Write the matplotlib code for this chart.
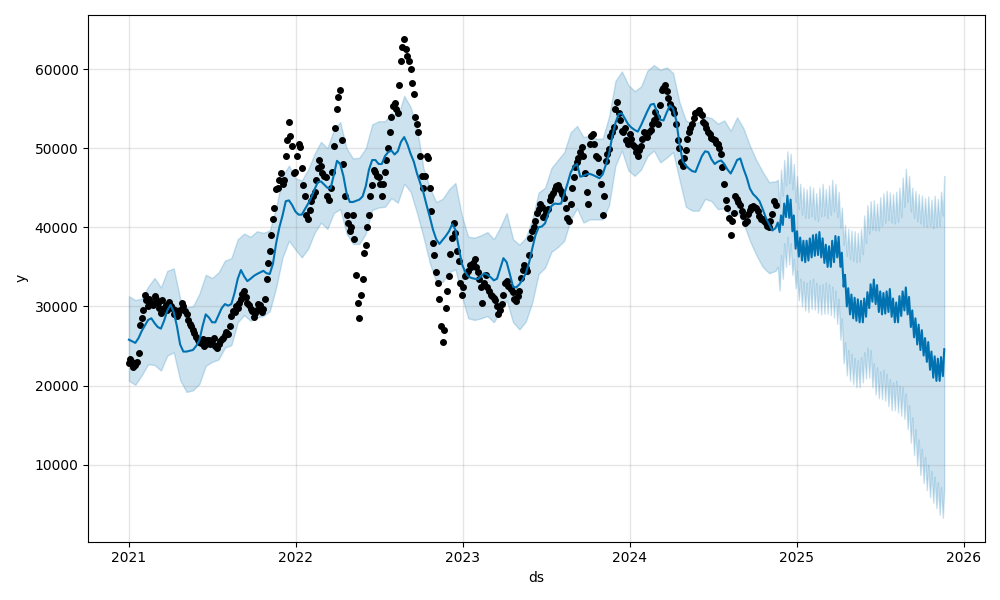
import matplotlib
matplotlib.use("Agg")
import matplotlib.pyplot as plt
import matplotlib.dates as mdates
import pandas as pd

# observed points, read twice a week: Fridays from 2021-01-01 ...
obs_start = "2021-01-01"
obs_y = [
    22800, 23000, 22600, 24100, 28500, 31500, 30000, 30500, 31300, 30400,
    29200, 29800, 29500, 30000, 29000, 28800, 29500, 30000, 29000, 27800,
    27000, 26100, 25500, 25900, 25300, 25800, 25600, 25000, 25300, 25900,
    26400, 26500, 28800, 29300, 29800, 31000, 32000, 30500, 29700, 28700,
    29600, 30200, 29700, 33500, 37000, 41000, 44800, 46000, 45500, 49000,
    53300, 50300, 47000, 50500, 47500, 44000, 41000, 43300, 44500, 47500,
    47800, 46500, 44000, 45000, 50300, 55000, 57300, 48000, 41500, 39500,
    41500, 34000, 28500, 33500, 37800, 41500, 45300, 47000, 46300, 44000,
    47000, 50000, 54000, 55700, 54500, 61000, 63800, 61700, 60000, 56900,
    53000, 49000, 45000, 49000, 45000, 38000, 34300, 31000, 25500, 29800,
    33800, 38700, 39300, 35800, 31500, 33800, 34500, 35000, 36000, 34300,
    32500, 33000, 32400, 31500, 31100, 30000, 29500, 31500, 33200, 32500,
    31800, 30700, 32000, 34600, 34800, 36500, 39500, 40800, 42300, 42600,
    41500, 42300, 44000, 44800, 45400, 44600, 43700, 41200, 43000, 46300,
    48200, 49500, 49000, 44500, 50500, 51800, 49000, 47000, 41500, 48400,
    49900, 52100, 55000, 54500, 52200, 52600, 50500, 51200, 50200, 49000,
    50300, 52000, 51400, 52300, 53500, 54000, 55500, 57600, 57200, 55600,
    55000, 53000, 50000, 47800, 49800, 52000, 53100, 54400, 54800, 54200,
    53000, 52000, 51300, 51000, 50500, 49200, 45500, 42400, 39000, 41800,
    43600, 42800, 41400, 40800, 42200, 42700, 42400, 41400, 41000, 40500,
    40000, 41700, 42800,
]
# ... and Mondays from 2021-01-04
obs_start2 = "2021-01-04"
obs_y2 = [
    23400, 22400, 23000, 27700, 29600, 30800, 31000, 30200, 31000, 29800,
    30800, 30200, 30600, 29800, 29600, 29000, 30400, 29400, 28300, 27500,
    26600, 25800, 25400, 25000, 25700, 25300, 26000, 24800, 25600, 26000,
    26800, 27500, 29400, 30000, 30500, 31600, 31200, 30200, 29400, 29200,
    30300, 29300, 31000, 35500, 39000, 42500, 45000, 46800, 46000, 51000,
    51500, 46800, 49000, 50200, 45300, 41600, 42200, 44000, 46000, 48500,
    46800, 46300, 43500, 47000, 52500, 56500, 51000, 44000, 40500, 40000,
    38500, 30500, 31500, 36800, 40000, 44000, 47200, 46500, 45500, 45500,
    48500, 52000, 55300, 55000, 58000, 62800, 62500, 61000, 58200, 54000,
    52000, 46500, 46500, 48800, 42000, 36500, 33000, 27500, 27000, 32000,
    36600, 40600, 37000, 33000, 32500, 34000, 35300, 35500, 35000, 33500,
    30500, 34000, 32000, 31300, 30800, 29000, 30300, 33000, 32600, 32200,
    31000, 31300, 33600, 35300, 34500, 38700, 40000, 41800, 43000, 41300,
    42000, 43500, 44300, 45200, 45000, 44200, 42500, 40800, 45000, 47600,
    48800, 50100, 46800, 43000, 51500, 50500, 48800, 45500, 44000, 49200,
    51600, 52700, 55800, 53500, 52000, 51000, 51800, 50400, 49500, 49800,
    51200, 51800, 52000, 53000, 54600, 53100, 57300, 58000, 56300, 55200,
    54500, 51000, 48300, 48800, 51200, 52600, 53800, 54600, 54500, 53300,
    52500, 51800, 51200, 50700, 50000, 47600, 43500, 41200, 40800, 44000,
    43200, 42000, 40600, 41700, 42600, 42600, 42000, 41000, 40800, 40200,
    40800, 43300,
]

# fitted trend over the history, weekly
hist_yhat = [
    25800, 25600, 25400, 26000, 26900, 27600, 28300, 28500, 27900, 27400,
    27200, 28200, 29500, 30200, 29300, 27500, 25200, 24300, 24300, 24400,
    24500, 25000, 25700, 27500, 29000, 28600, 28000, 28000, 28900, 29800,
    30300, 30100, 30300, 31700, 33500, 34600, 33800, 33200, 33500, 33850,
    34100, 34300, 34500, 34200, 34100, 35400, 38000, 40000, 41500, 43300,
    43400, 42800, 42000, 41600, 41600, 42300, 43000, 43800, 44800, 45700,
    45800, 45400, 45000, 44900, 46600, 48400, 48000, 46500, 44300, 43200,
    43200, 43350, 43500, 43900, 45200, 47300, 48500, 48500, 48000, 48000,
    49000, 49500, 49700, 49200, 49600, 50800, 51400, 50500, 49300, 48300,
    46800, 45600, 44400, 42800, 41300, 39700, 38500, 37900, 38400, 38900,
    39500, 40400, 39700, 37600, 35400, 34400, 33800, 33600, 33500, 33450,
    33800, 34200, 34000, 33700, 33300, 33500, 34800, 36100, 35600, 34100,
    32500, 32400, 32800, 33400, 34200, 35500, 37300, 39000, 40000, 40100,
    40500, 41700, 42700, 43000, 42950, 43000, 44200, 45500, 46900, 47700,
    48000, 46400, 46500, 46700, 46750, 46600, 46400, 46200, 46700, 47900,
    49300, 51500, 53200, 54300, 54400, 53700, 53000, 52600, 52300, 52100,
    52900, 53800, 54700, 55500, 55600, 54600, 53600, 53500, 54500, 55400,
    55000, 53500, 50500, 48400, 47800, 47400, 47100, 47000, 48000, 49000,
    49600, 49500, 48600, 48000, 48300, 48450, 48000, 47300, 46800, 47600,
    48500, 48700, 47400, 46300, 44900, 44200, 43800, 43300, 42300, 41200,
    40400, 39600, 39900,
]

# uncertainty interval over the history, every two weeks
hist_upper = [
    31300, 30800, 31000, 32500, 33600, 32400, 34500, 34800, 31000, 29900,
    30000, 31600, 34000, 33600, 34300, 35800, 36100, 38500, 39200, 38800,
    39500, 39300, 39600, 42500, 46500, 47800, 46200, 45900, 47300, 49300,
    50800, 50000, 52300, 53300, 50000, 48700, 48800, 50000, 53000, 53400,
    53400, 54500, 54000, 56600, 55200, 52500, 47500, 45000, 43200, 43600,
    44800, 45600, 41500, 38800, 38700, 39000, 39400, 38500, 40000, 41800,
    38500, 37800, 38700, 41000, 44400, 45000, 47500, 48500, 49500, 52000,
    52800, 51400, 51600, 51200, 51200, 54000, 58500, 59700, 58000, 57200,
    57800, 59800, 60500, 59900, 60200, 59500, 55800, 53500, 53100, 53300,
    54000, 53800, 53100, 53500, 52200, 53900, 52500, 50300, 48500, 47000,
    45700, 45800,
]
hist_lower = [
    20600, 20100, 21300, 22700, 22600, 21900, 23800, 24200, 20700, 19200,
    19400, 20200, 22500, 23000, 23300, 24800, 25100, 28000, 28900, 28200,
    28600, 28800, 29400, 32400, 36200, 38300, 37200, 36200, 37300, 39300,
    40600, 39800, 41800, 42300, 39200, 37900, 37900, 39200, 42200, 42500,
    42600, 43700, 43100, 45500, 44500, 41800, 38800, 35500, 33100, 33100,
    34300, 34700, 31300, 28500, 28300, 28500, 28800, 28000, 29400, 30800,
    28000, 27100, 28100, 30500, 34100, 34900, 36900, 37500, 38300, 41000,
    42400, 40600, 41000, 41000, 41000, 42800, 47800, 49700, 47200, 46500,
    47300, 49000, 49700, 48200, 48800, 49500, 46000, 42600, 42100, 42100,
    43600, 43300, 42300, 42400, 41500, 42000, 40500, 38300, 36500, 35000,
    34200, 34500,
]

# forecast: weekday level (Wednesdays) and weekend dip (Sundays)
fut_wed_yhat = [
    40600, 41500, 43000, 44000, 43500, 41500, 39500, 38700, 38300, 38300,
    38600, 39000, 39100, 39400, 38600, 37800, 37600, 38300, 38900, 38800,
    36800, 34000, 32300, 31500, 31100, 30900, 30700, 31000, 31800, 32800,
    33400, 32700, 31900, 31700, 31900, 32200, 31000, 30500, 31300, 31900,
    32400, 31200, 29500, 28500, 27700, 27000, 26000, 25500, 24300, 23700,
    23400, 23600, 24600,
]
fut_sun_yhat = [
    39400, 40300, 41300, 41200, 39500, 37300, 36300, 35800, 35600, 35800,
    36200, 36400, 36500, 36200, 35500, 35000, 35000, 35600, 36200, 35000,
    32500, 30000, 29000, 28500, 28200, 28000, 28000, 28700, 29800, 30600,
    30300, 29300, 29000, 29100, 29300, 28700, 28000, 28000, 28800, 29500,
    29000, 27400, 26100, 25200, 24500, 23800, 23000, 22000, 21000, 20600,
    20600, 21200,
]
fut_wed_upper = [
    46000, 47300, 48500, 49600, 49300, 48000, 46500, 45500, 45000, 44800,
    45200, 45000, 44300, 45000, 45500, 44800, 45300, 46000, 45500, 44500,
    42500, 40300, 39800, 39600, 39500, 39300, 39800, 41500, 42800, 43300,
    43400, 43000, 43800, 44300, 44600, 44400, 44200, 44500, 45000, 46300,
    47400, 46500, 45000, 44600, 44200, 44000, 43700, 43900, 43500, 44000,
    43600, 44500, 46500,
]
fut_sun_upper = [
    42500, 44000, 45300, 45600, 44800, 43200, 42300, 41600, 41200, 41200,
    41400, 41000, 40800, 41400, 41500, 41200, 41600, 42000, 41300, 40000,
    37800, 36400, 36000, 35800, 35600, 35700, 36600, 38000, 39200, 39700,
    39600, 39600, 40200, 40600, 40900, 40600, 40500, 40700, 41300, 42600,
    43200, 42000, 41200, 40800, 40500, 40200, 40100, 40200, 39900, 40100,
    40200, 41500,
]
fut_wed_lower = [
    35000, 36500, 38000, 38800, 38000, 36000, 34500, 33500, 33200, 33000,
    33300, 33500, 33000, 32700, 32800, 33000, 32800, 32500, 32000, 31000,
    28500, 25500, 24500, 24000, 23500, 23200, 23600, 24200, 24800, 24500,
    22800, 22300, 21800, 22000, 21500, 20800, 20400, 20600, 20000, 19800,
    19000, 17500, 16000, 14500, 13200, 12000, 11000, 10000, 9200, 8500,
    7800, 7200, 7000,
]
fut_sun_lower = [
    32000, 33500, 35000, 35300, 34000, 32300, 30800, 30000, 29500, 29300,
    29700, 29600, 29200, 29000, 29100, 29100, 28900, 28600, 27800, 25800,
    22800, 21300, 20600, 20200, 19800, 19800, 20400, 20900, 21000, 19800,
    18900, 18400, 18300, 18100, 17400, 16900, 16900, 16600, 16200, 15800,
    14500, 12800, 11200, 9900, 8700, 7700, 6800, 5900, 5200, 4500,
    3700, 3300,
]

# dates
obs_ds = pd.date_range(obs_start, periods=len(obs_y), freq="7D")
obs_ds2 = pd.date_range(obs_start2, periods=len(obs_y2), freq="7D")
hist_ds_w = pd.date_range(obs_start, periods=len(hist_yhat), freq="7D")
hist_ds_b = pd.date_range(obs_start, periods=len(hist_upper), freq="14D")
wed_ds = pd.date_range("2024-11-20", periods=len(fut_wed_yhat), freq="7D")
sun_ds = pd.date_range("2024-11-24", periods=len(fut_sun_yhat), freq="7D")

obs = pd.concat([pd.DataFrame({"ds": obs_ds, "y": obs_y}),
                 pd.DataFrame({"ds": obs_ds2, "y": obs_y2})]).sort_values("ds")

fut = pd.concat([
    pd.DataFrame({"ds": wed_ds, "yhat": fut_wed_yhat,
                  "upper": fut_wed_upper, "lower": fut_wed_lower}),
    pd.DataFrame({"ds": sun_ds, "yhat": fut_sun_yhat,
                  "upper": fut_sun_upper, "lower": fut_sun_lower}),
]).sort_values("ds")

line = pd.concat([pd.DataFrame({"ds": hist_ds_w, "yhat": hist_yhat}),
                  fut[["ds", "yhat"]]])
band = pd.concat([pd.DataFrame({"ds": hist_ds_b, "upper": hist_upper,
                                "lower": hist_lower}),
                  fut[["ds", "upper", "lower"]]])

fig = plt.figure(facecolor="w", figsize=(10, 6))
ax = fig.add_subplot(111)
ax.plot(obs["ds"], obs["y"], "k.", markersize=8)
ax.plot(line["ds"], line["yhat"], ls="-", c="#0072B2", lw=1.5)
ax.fill_between(band["ds"], band["lower"], band["upper"], color="#0072B2", alpha=0.2)
ax.grid(True, which="major", c="gray", ls="-", lw=1, alpha=0.2)
ax.xaxis.set_major_locator(mdates.YearLocator())
ax.xaxis.set_major_formatter(mdates.DateFormatter("%Y"))
ax.set_xlabel("ds")
ax.set_ylabel("y")
fig.tight_layout()
fig.savefig("out.png", dpi=100)
